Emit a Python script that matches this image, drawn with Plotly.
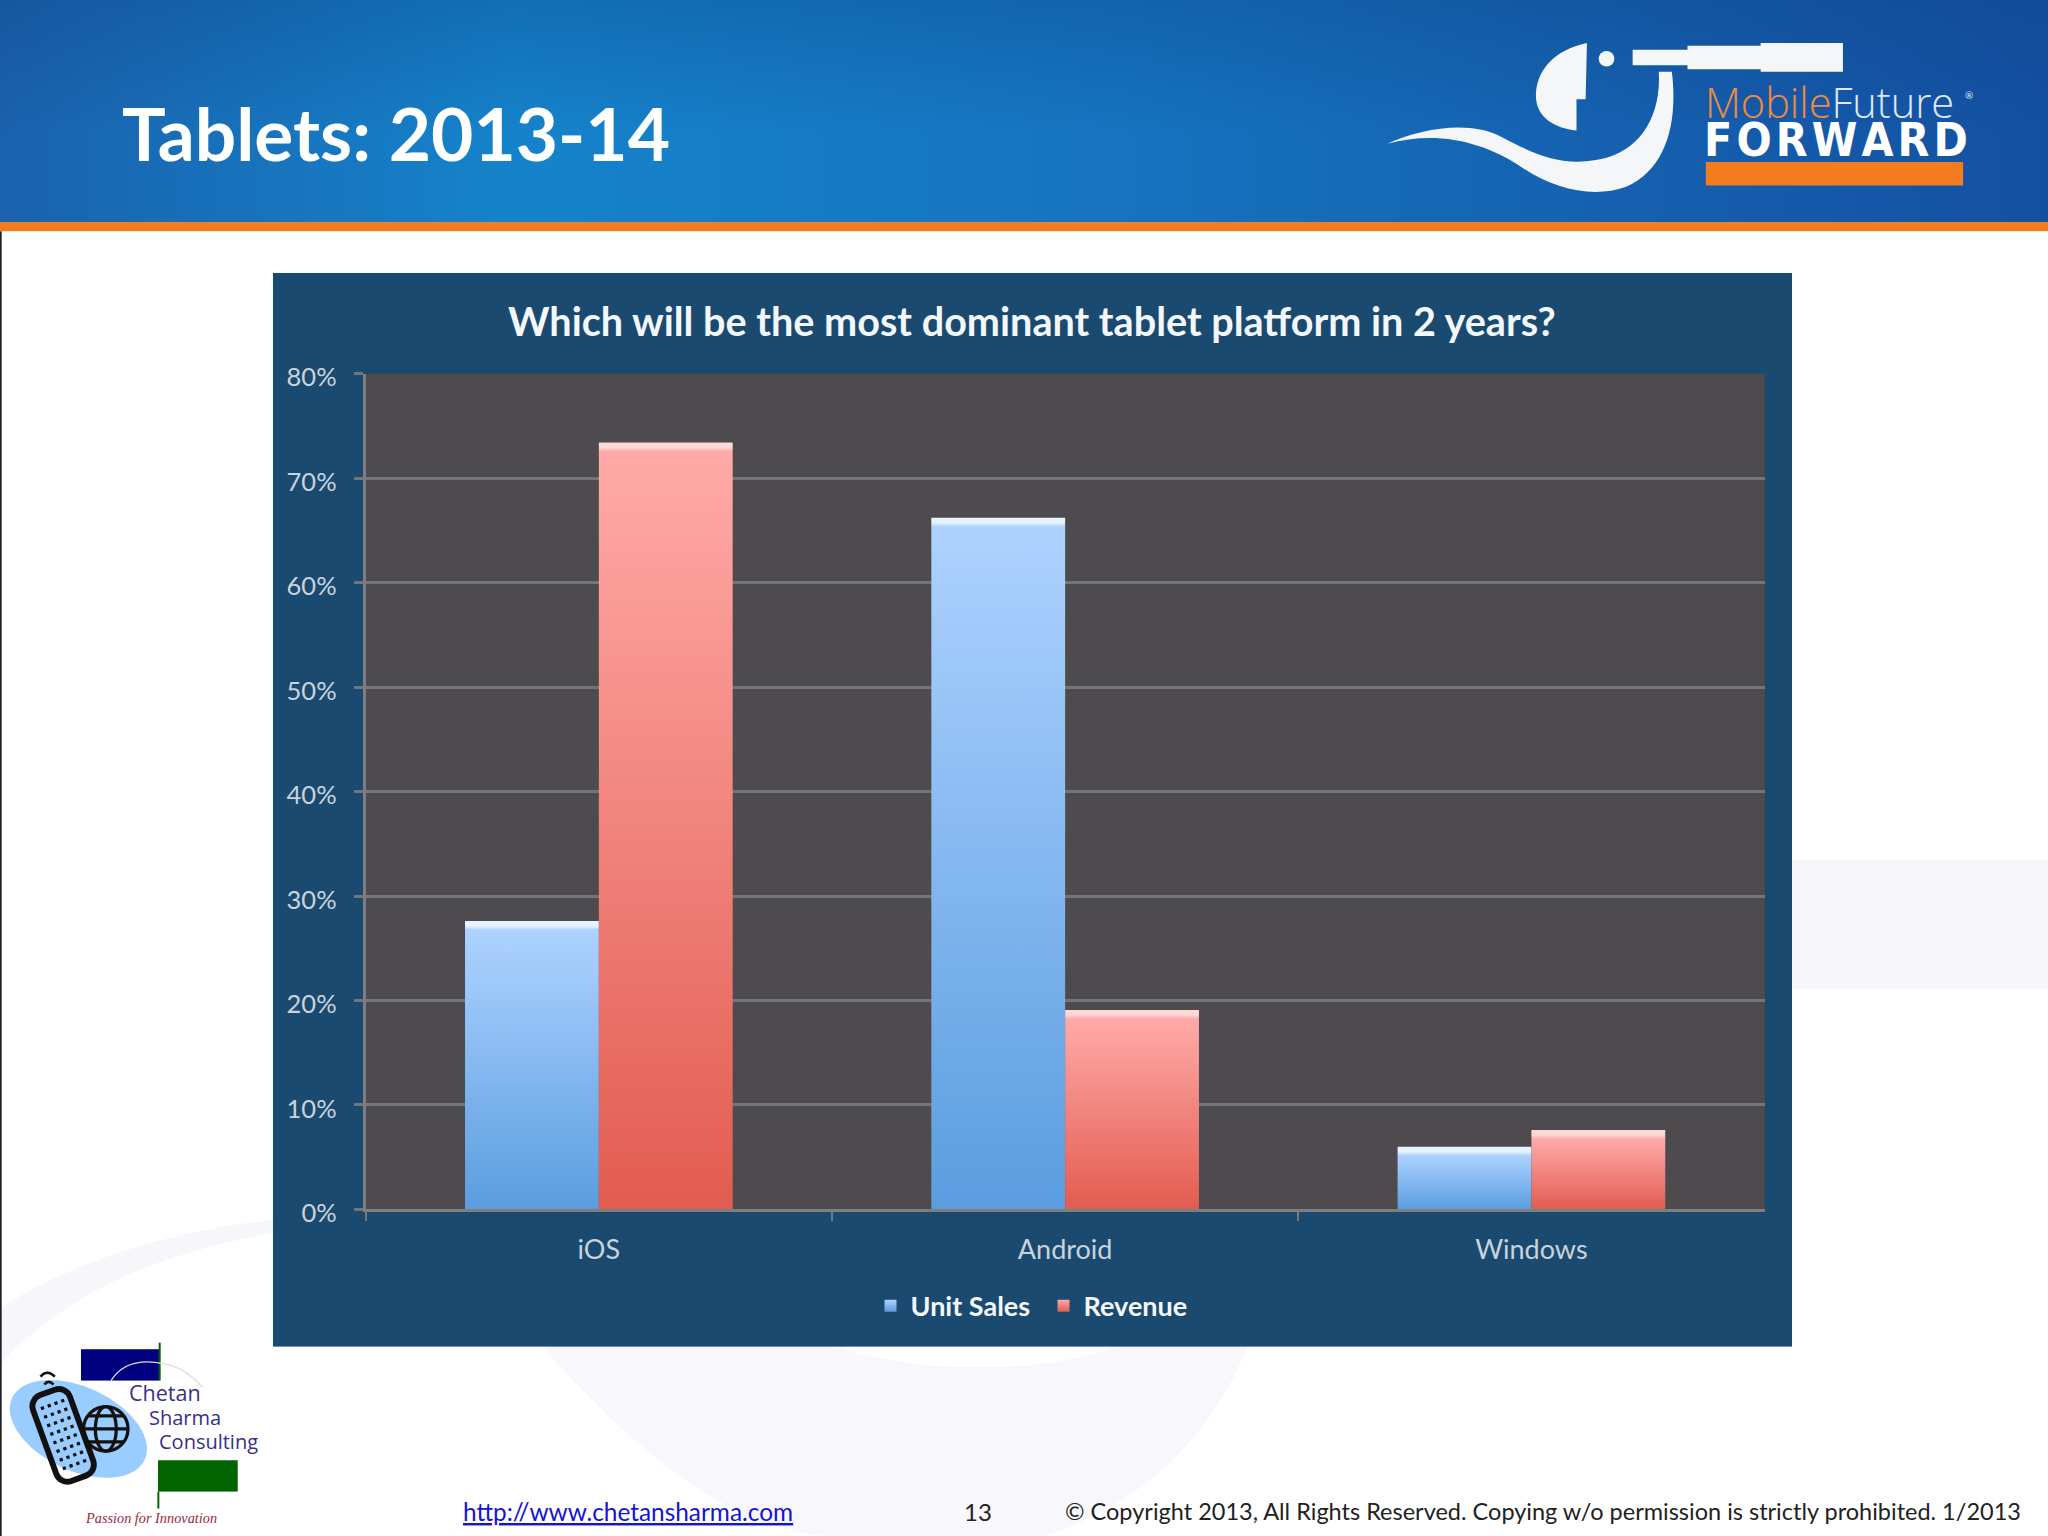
import base64
import json
import plotly.graph_objects as go

# chart data
platforms = ["iOS", "Android", "Windows"]
unit_sales = [27.6, 66.2, 6.0]
revenue = [73.4, 19.1, 7.6]
pct_ticks = [0, 10, 20, 30, 40, 50, 60, 70, 80]
pct_labels = ["0%", "10%", "20%", "30%", "40%", "50%", "60%", "70%", "80%"]

series_names = ["Unit Sales", "Revenue"]
# highlight, top, bottom of the bar gradients
bar_colors = [["#e6f3ff", "#add2ff", "#5a9de0"], ["#ffd9d6", "#ffaaa8", "#e25c50"]]

FONT = "Lato"


# reference was measured on a 1568x1176 view of the page
def fx(x):
    return x / 1568


def fy(y):
    return 1 - y / 1176


background = """<svg xmlns="http://www.w3.org/2000/svg" width="2048" height="1536" viewBox="0 0 1568 1176">
<defs>
<linearGradient id="hd" x1="0" x2="1" y1="0" y2="0">
<stop offset="0" stop-color="#1a62ad"/><stop offset="0.25" stop-color="#1583cb"/>
<stop offset="0.55" stop-color="#1673bf"/><stop offset="1" stop-color="#1450a2"/>
</linearGradient>
<linearGradient id="hv" x1="0" x2="0" y1="0" y2="1">
<stop offset="0" stop-color="#0b3f80" stop-opacity="0.30"/><stop offset="0.6" stop-color="#0b3f80" stop-opacity="0"/>
</linearGradient>
</defs>
<rect width="1568" height="1176" fill="#ffffff"/>
<path d="M1372 658H1568V757H1372Z" fill="#f7f6fa"/>
<path d="M0 1002C50 968 130 942 209 934V944C130 958 55 985 0 1045Z" fill="#f7f6fa"/>
<path d="M415 1031C480 1105 560 1176 640 1176H800C880 1150 930 1095 955 1031H855C800 1052 700 1052 640 1031Z" fill="#f8f7fb"/>
<rect x="0" y="177" width="1.3" height="999" fill="#222222"/>
<rect width="1568" height="170" fill="url(#hd)"/>
<rect width="1568" height="170" fill="url(#hv)"/>
<rect y="170" width="1568" height="7" fill="#f47c20"/>
<g fill="#f4f6f8">
<path d="M1215 33C1190 38 1175 55 1176 75C1177 90 1190 98 1207 100V76H1214Z"/>
<circle cx="1230" cy="45" r="6"/>
<path d="M1250 38H1292V35H1348V33H1411V55H1348V53H1292V50H1250Z"/>
<path d="M1062 110C1090 98 1125 92 1150 105C1175 118 1195 128 1225 122C1255 116 1272 90 1270 55H1280C1285 95 1275 130 1245 143C1220 152 1190 145 1165 128C1135 108 1100 100 1062 110Z"/>
</g>
<rect x="1306" y="124" width="197" height="18" fill="#f47c20"/>
<rect x="209" y="209" width="1163" height="822" fill="#1a4a70"/>
<rect x="280" y="286" width="1071" height="640" fill="#4d4b4d"/>
<rect x="62" y="1033" width="60" height="24" fill="#000080"/>
<rect x="121.5" y="1028" width="1.5" height="29" fill="#006400"/>
<path d="M85 1057C92 1046 105 1040 125 1044C138 1046 147 1053 155 1062" fill="none" stroke="#dddddd" stroke-width="1"/>
<ellipse cx="60" cy="1094" rx="56" ry="32" transform="rotate(25 60 1094)" fill="#99ccff"/>
<g transform="rotate(-20 48 1098)" fill="none" stroke="#111111">
<rect x="33" y="1064" width="30" height="70" rx="9" stroke-width="4.5"/>
<path d="M39 1074H58M39 1081H58M39 1088H58M39 1095H58M39 1102H58M39 1109H58M39 1116H58M39 1123H58" stroke-width="2.5" stroke-dasharray="2.5 3"/>
</g>
<path d="M31 1054Q36 1048 42 1054M34 1060Q37 1056 41 1060" fill="none" stroke="#111111" stroke-width="2"/>
<g fill="none" stroke="#111111" stroke-width="2.5">
<circle cx="81" cy="1094" r="17"/>
<ellipse cx="81" cy="1094" rx="8" ry="17"/>
<path d="M64 1094H98M67 1084H95M67 1104H95"/>
</g>
<rect x="121" y="1118" width="61" height="24" fill="#006400"/>
<rect x="120.5" y="1142" width="1.5" height="13" fill="#006400"/>
</svg>"""
bg_uri = "data:image/svg+xml;base64," + base64.b64encode(background.encode()).decode()

fig = go.Figure()
for name, vals, cols in zip(series_names, [unit_sales, revenue], bar_colors):
    fig.add_trace(go.Bar(x=platforms, y=vals, name=name, marker=dict(color=cols[2], line=dict(width=0))))


def note(text, x, y, size, color="#ffffff", family=FONT, anchor="left", weight=None, style=None):
    fig.add_annotation(
        text=text, xref="paper", yref="paper", x=fx(x), y=fy(y), xanchor=anchor, yanchor="middle",
        showarrow=False, borderpad=0,
        font=dict(family=family, size=size, color=color, weight=weight, style=style),
    )


note("Tablets: 2013-14", 93, 102, 73, weight=700)
note('<span style="color:#f08a3c">Mobile</span>Future', 1305, 78, 41.5, color="#dfe9f4", family="Open Sans", weight=300)
note("®", 1504, 73, 10, color="#dfe9f4")
note("F\u200aO\u200aR\u200aW\u200aA\u200aR\u200aD", 1304, 107, 46, weight=700, family="DejaVu Sans Condensed, Liberation Sans")
note("Chetan", 98, 1066, 21.5, color="#35308c", family="Open Sans")
note("Sharma", 113, 1085, 20, color="#35308c", family="Open Sans")
note("Consulting", 121, 1104, 20, color="#35308c", family="Open Sans")
note("Passion for Innovation", 64, 1162, 14.3, color="#9c2a3c", family="Liberation Serif", style="italic")
note("<u>http://www.chetansharma.com</u>", 354, 1157, 24.4, color="#1414d8")
note("13", 737, 1157, 24, color="#222222")
note("© Copyright 2013, All Rights Reserved. Copying w/o permission is strictly prohibited. 1/2013", 815, 1157, 23.5, color="#222222")

fig.update_layout(
    width=2048, height=1536,
    autosize=False,
    margin=dict(l=0, r=0, t=0, b=0, autoexpand=False),
    paper_bgcolor="#ffffff",
    plot_bgcolor="#4d4b4d",
    barmode="group",
    bargap=0.426,
    bargroupgap=0,
    font=dict(family=FONT),
    images=[dict(source=bg_uri, xref="paper", yref="paper", x=0, y=1, sizex=1, sizey=1,
                 xanchor="left", yanchor="top", sizing="stretch", layer="below")],
    title=dict(text="Which will be the most dominant tablet platform in 2 years?",
               xref="paper", yref="paper", x=fx(790), y=fy(247), xanchor="center", yanchor="middle",
               font=dict(family=FONT, size=39.6, color="#f4f7fa", weight=700)),
    legend=dict(orientation="h", x=fx(666.5), y=fy(1000), xanchor="left", yanchor="middle",
                bgcolor="rgba(0,0,0,0)", font=dict(family=FONT, size=27, color="#f4f7fa", weight=700),
                itemwidth=30, tracegroupgap=0, entrywidth=128, entrywidthmode="pixels"),
    xaxis=dict(domain=[fx(280), fx(1351)], type="category", tickson="boundaries", ticks="outside",
               ticklen=9, tickwidth=2, tickcolor="#77797c", showline=True, linecolor="#7c7e80", linewidth=3,
               showgrid=False, tickfont=dict(family=FONT, size=27, color="#c9d3dc"), ticklabelstandoff=14),
    yaxis=dict(domain=[fy(926), fy(286)], range=[0, 80], tickvals=pct_ticks, ticktext=pct_labels, ticks="outside",
               ticklen=9, tickwidth=3, tickcolor="#737578", gridcolor="#757577", gridwidth=3, zeroline=False,
               showline=True, linecolor="#7c7e80", linewidth=3, ticklabelshift=4,
               tickfont=dict(family=FONT, size=25.5, color="#c9d3dc"), ticklabelstandoff=12),
)

post = """
document.body.style.margin = '0';
document.body.style.overflow = 'hidden';
var gd = document.getElementById('{plot_id}');
var cols = %s;
var defs = gd.querySelector('svg.main-svg defs');
var NS = 'http://www.w3.org/2000/svg';
function shade(path, c, id, lit) {
  var h = path.getBBox().height;
  var g = document.createElementNS(NS, 'linearGradient');
  g.setAttribute('id', id);
  g.setAttribute('x1', '0'); g.setAttribute('x2', '0'); g.setAttribute('y1', '0'); g.setAttribute('y2', '1');
  var stops = lit ? [[0, c[0]], [5 / h, c[0]], [9 / h, c[1]], [1, c[2]]] : [[0, c[1]], [1, c[2]]];
  stops.forEach(function (s) {
    var e = document.createElementNS(NS, 'stop');
    e.setAttribute('offset', s[0]);
    e.setAttribute('stop-color', s[1]);
    g.appendChild(e);
  });
  defs.appendChild(g);
  path.style.fill = 'url(#' + id + ')';
}
gd.querySelectorAll('.barlayer .trace').forEach(function (tr, t) {
  tr.querySelectorAll('.point path').forEach(function (p, i) { shade(p, cols[t], 'bg' + t + '_' + i, true); });
});
gd.querySelectorAll('.legend .traces').forEach(function (tr, t) {
  tr.querySelectorAll('.legendpoints path').forEach(function (p, i) { shade(p, cols[t], 'lg' + t + '_' + i, false); });
});
""" % json.dumps(bar_colors)

fig.write_html("out.html", post_script=post, config={"displayModeBar": False})
